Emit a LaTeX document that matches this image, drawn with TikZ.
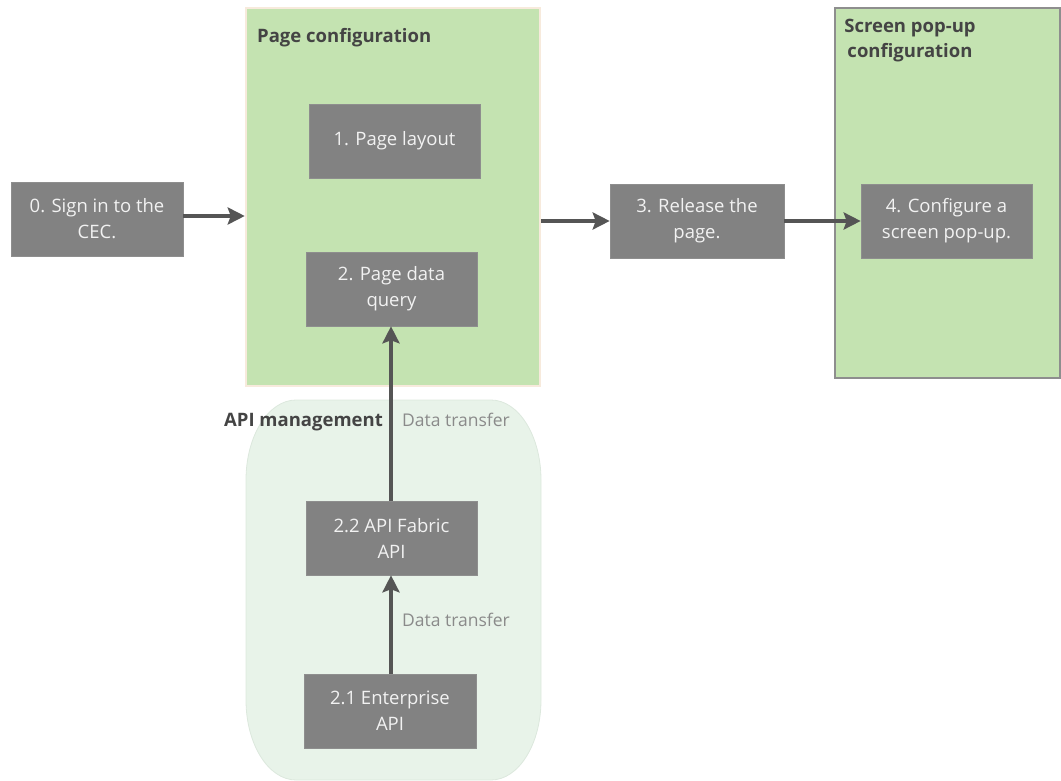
\documentclass[tikz,border=0pt]{standalone}
\usepackage{fontspec}
\setmainfont{Open Sans}
\usetikzlibrary{arrows.meta}
\definecolor{boxgray}{HTML}{828282}
\definecolor{boxtext}{HTML}{F2F2F2}
\definecolor{groupgreen}{HTML}{C4E3B1}
\definecolor{pageedge}{HTML}{F7EADC}
\definecolor{popedge}{HTML}{8E8E8E}
\definecolor{apifill}{HTML}{E8F3E9}
\definecolor{apiedge}{HTML}{DCE8DD}
\definecolor{linkgray}{HTML}{555555}
\definecolor{titlegray}{HTML}{444444}
\definecolor{notegray}{HTML}{8A8A8A}
\tikzset{
  stepbox/.style={draw=boxgray!90!white, line width=0.6pt, fill=boxgray, text=boxtext,
    minimum width=171pt, minimum height=74pt, inner sep=2pt, align=center,
    font=\fontsize{18.5}{26}\selectfont},
  grouptitle/.style={text=titlegray, font=\bfseries\fontsize{18.5}{25}\selectfont, inner sep=0pt},
  note/.style={text=notegray, font=\fontsize{17.5}{22}\selectfont, inner sep=0pt, anchor=west},
  link/.style={draw=linkgray, line width=4pt,
    -{Stealth[length=17pt, width=17pt, inset=3pt]}, shorten >=0pt},
}
\begin{document}
\begin{tikzpicture}[x=1pt, y=-1pt]
  \useasboundingbox (0,0) rectangle (1061,781);

  % API management group (rounded blob)
  \path[fill=apifill, draw=apiedge, line width=0.8pt]
    (296,400) -- (491,400)
    arc[start angle=90, end angle=0, x radius=50, y radius=-80] -- (541,700)
    arc[start angle=0, end angle=-90, x radius=50, y radius=-80] -- (296,780)
    arc[start angle=270, end angle=180, x radius=50, y radius=-80] -- (246,480)
    arc[start angle=180, end angle=90, x radius=50, y radius=-80] -- cycle;
  \node[grouptitle, anchor=east] (apititle) at (383,422) {API management};

  % Page configuration group
  \node[fill=groupgreen, draw=pageedge, line width=2.5pt,
        minimum width=294pt, minimum height=378pt, inner sep=0pt] (pc) at (393,197) {};
  \node[grouptitle, anchor=west] (pctitle) at (257,38) {Page configuration};

  % Screen pop-up configuration group
  \node[fill=groupgreen, draw=popedge, line width=2pt,
        minimum width=225pt, minimum height=369pt, inner sep=0pt] (sp) at (947,193) {};
  \node[grouptitle, align=center] (sptitle) at (910,41) {Screen pop-up\\configuration};

  % Steps
  \node[stepbox, minimum width=172pt] (b0) at (97,219) {0. Sign in to the\\CEC.};
  \node[stepbox] (b1) at (394.5,141) {1. Page layout};
  \node[stepbox] (b2) at (391.5,289) {2. Page data\\query};
  \node[stepbox, minimum width=174pt] (b3) at (697,221) {3. Release the\\page.};
  \node[stepbox] (b4) at (946.5,221) {4. Configure a\\screen pop-up.};
  \node[stepbox] (b22) at (391.5,538) {2.2 API Fabric\\API};
  \node[stepbox, minimum width=172pt] (b21) at (390,711) {2.1 Enterprise\\API};

  % Connectors
  \draw[link] (b0.east |- 0,216) -- (pc.west |- 0,216);
  \draw[link] (pc.east |- b3.west) -- (b3.west);
  \draw[link] (b3.east) -- (b4.west);
  \draw[link] (b21.north -| 391,0) -- (b22.south -| 391,0);
  \draw[link] (b22.north -| 391,0) -- (b2.south -| 391,0);

  % Connector labels
  \node[note] (dt1) at (402,420) {Data transfer};
  \node[note] (dt2) at (402,620) {Data transfer};
\end{tikzpicture}
\end{document}
